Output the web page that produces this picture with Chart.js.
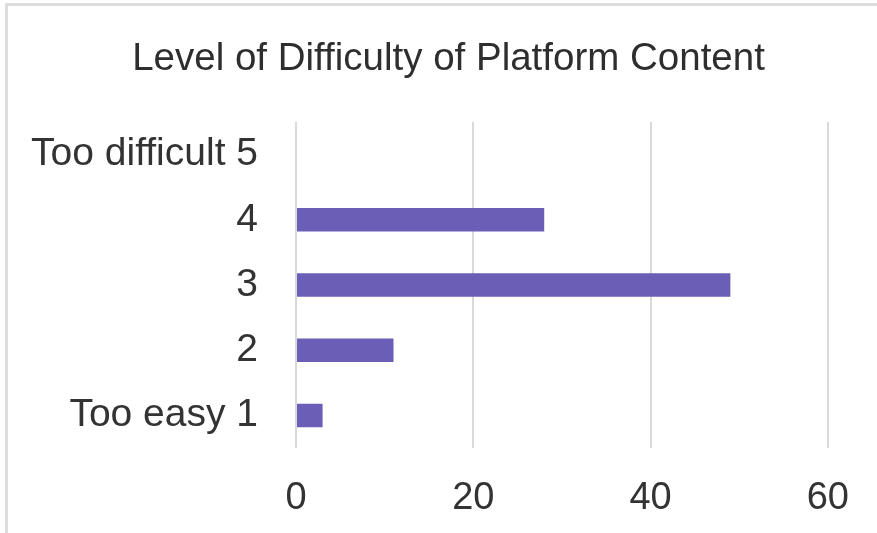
<!doctype html>
<html lang="en">
<head>
  <meta charset="utf-8">
  <title>Level of Difficulty of Platform Content</title>
  <script src="https://cdn.jsdelivr.net/npm/chart.js"></script>
  <style>
    body { margin: 0; background: #fff; }
    #wrap { position: relative; width: 877px; height: 533px; }
    #frame {
      position: absolute; left: 5px; top: 3px; right: 0; bottom: 0;
      border-top: 3px solid #dddddd; border-left: 3px solid #dddddd;
      pointer-events: none;
    }
  </style>
</head>
<body>
  <div id="wrap">
    <canvas id="difficultyChart" width="877" height="533"></canvas>
    <div id="frame"></div>
  </div>

  <script>
    const levels = ['Too difficult 5', '4', '3', '2', 'Too easy 1'];
    const responses = [0, 28, 49, 11, 3];
    const xTicks = [0, 20, 40, 60];
    const chartTitle = 'Level of Difficulty of Platform Content';

    const FONT = '"Liberation Sans", Arial, sans-serif';

    // heading drawn slightly right of centre, above the plot
    const headerText = {
      id: 'headerText',
      afterDraw(chart) {
        const ctx = chart.ctx;
        ctx.save();
        ctx.font = '38.5px ' + FONT;
        ctx.fillStyle = '#2e2e2e';
        ctx.textAlign = 'center';
        ctx.textBaseline = 'middle';
        ctx.fillText(chartTitle, chart.width / 2 + 10, 59);
        ctx.restore();
      }
    };

    const ctx = document.getElementById('difficultyChart').getContext('2d');
    new Chart(ctx, {
      type: 'bar',
      data: {
        labels: levels,
        datasets: [{
          data: responses,
          backgroundColor: '#6a5eb6',
          categoryPercentage: 1,
          barPercentage: 0.36
        }]
      },
      options: {
        indexAxis: 'y',
        responsive: false,
        animation: false,
        layout: { padding: { top: 122, right: 45, bottom: 0, left: 0 } },
        plugins: {
          legend: { display: false },
          tooltip: { enabled: false }
        },
        scales: {
          x: {
            min: 0,
            max: 60,
            afterBuildTicks: s => { s.ticks = xTicks.map(v => ({ value: v })); },
            afterFit: s => { s.height = 85; },
            grid: { color: '#d9d9d9', lineWidth: 2, drawTicks: false },
            border: { display: false },
            ticks: { padding: 28, color: '#333333', font: { family: FONT, size: 38 } }
          },
          y: {
            afterFit: s => { s.width = 296; },
            grid: { display: false, drawTicks: false },
            border: { display: false },
            ticks: { padding: 38, color: '#333333', font: { family: FONT, size: 39 } }
          }
        }
      },
      plugins: [headerText]
    });
  </script>
</body>
</html>
